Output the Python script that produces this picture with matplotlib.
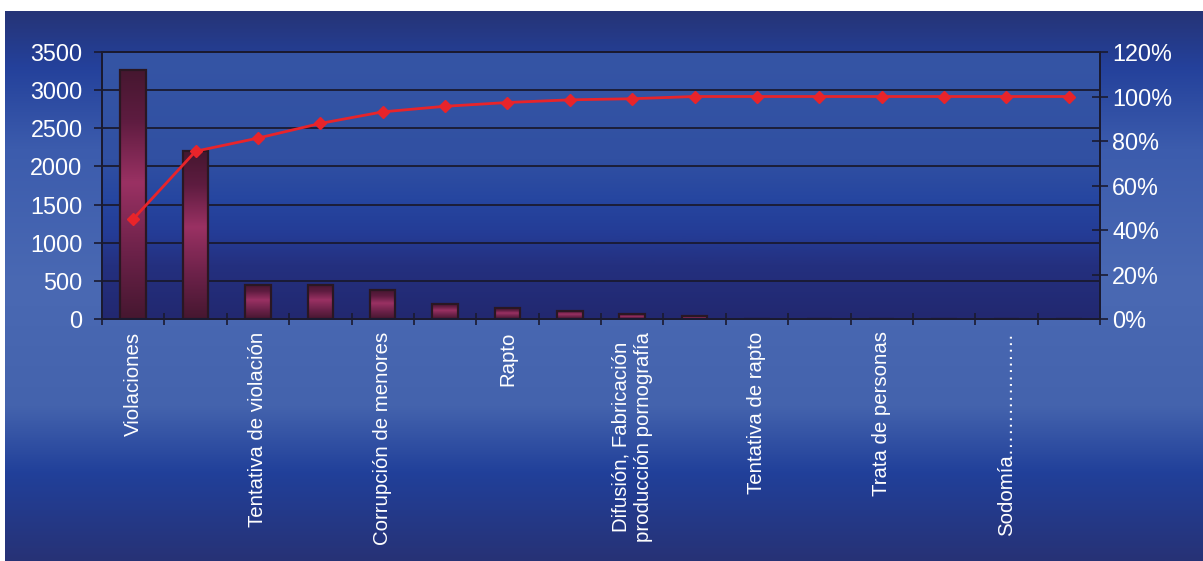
import numpy as np
import matplotlib
matplotlib.use("Agg")
import matplotlib.pyplot as plt
from matplotlib.colors import LinearSegmentedColormap
from matplotlib.ticker import FuncFormatter

categories = ["Violaciones", "", "Tentativa de violación", "", "Corrupción de menores", "",
              "Rapto", "", "Difusión, Fabricación\nproducción pornografía", "",
              "Tentativa de rapto", "", "Trata de personas", "", "Sodomía………………", ""]
counts = [3260, 2200, 450, 450, 380, 200, 140, 105, 60, 35, 0, 0, 0, 0, 0, 0]
cum_pct = [0.449, 0.754, 0.813, 0.879, 0.931, 0.956, 0.973, 0.985, 0.99, 1.0,
           1.0, 1.0, 1.0, 1.0, 1.0, 1.0]
left_ticks = [0, 500, 1000, 1500, 2000, 2500, 3000, 3500]
right_ticks = [0, 0.2, 0.4, 0.6, 0.8, 1.0, 1.2]

FONT = "Liberation Sans"
plt.rcParams["font.family"] = [FONT, "DejaVu Sans"]

W, H = 1203, 561
fig = plt.figure(figsize=(W / 100, H / 100), dpi=100, facecolor="white")

# page background (white strip at top and left)
bg = fig.add_axes([5 / W, 0, 1 - 5 / W, 550 / H], zorder=-10)
bg.axis("off")
bg_cmap = LinearSegmentedColormap.from_list("bg", [
    (0.0, "#263477"), (0.10, "#24419b"), (0.25, "#3c5cad"), (0.5, "#4a69b3"),
    (0.72, "#4463ad"), (0.84, "#21409a"), (1.0, "#273276")])
bg.imshow(np.linspace(0, 1, 256).reshape(-1, 1), cmap=bg_cmap, aspect="auto",
          extent=[0, 1, 0, 1], origin="upper")
bg.set_xlim(0, 1)
bg.set_ylim(0, 1)

ax = fig.add_axes([102 / W, (H - 319) / H, 998 / W, 267 / H])
ax.patch.set_visible(False)
plot_cmap = LinearSegmentedColormap.from_list("plot", [
    (0.0, "#3555a5"), (0.4, "#3150a2"), (0.55, "#2646a0"), (0.68, "#243c96"),
    (0.8, "#24307f"), (1.0, "#222870")])
ax.imshow(np.linspace(0, 1, 256).reshape(-1, 1), cmap=plot_cmap, aspect="auto",
          extent=[0, 1, 0, 1], origin="upper", transform=ax.transAxes, zorder=0)

x = np.arange(len(categories))
bar_cmap = LinearSegmentedColormap.from_list("bar", [
    (0.0, "#461730"), (0.25, "#6a2148"), (0.55, "#9a3163"), (0.8, "#5e1c40"), (1.0, "#461730")])
bars = ax.bar(x, counts, width=0.41, facecolor="none", edgecolor="#2a1722",
              linewidth=1.6, zorder=3)
grad = np.linspace(0, 1, 128).reshape(-1, 1)
for b, v in zip(bars, counts):
    if v <= 0:
        continue
    x0 = b.get_x()
    im = ax.imshow(grad, cmap=bar_cmap, aspect="auto", origin="lower",
                   extent=[x0, x0 + b.get_width(), 0, v], zorder=2)
    im.set_clip_path(b)

ax.set_xlim(-0.5, len(categories) - 0.5)
ax.set_ylim(0, 3500)
ax.set_yticks(left_ticks)
ax.yaxis.grid(True, color="#1a1a30", linewidth=1.3, zorder=1)
ax.set_axisbelow(True)

ax.set_xticks(np.arange(-0.5, len(categories), 1))
ax.set_xticklabels([])
ax.set_xticks(x, minor=True)
ax.set_xticklabels(categories, minor=True, rotation=90, va="top", ha="center",
                   multialignment="center", fontsize=14.7, color="white")
ax.tick_params(axis="x", which="major", direction="inout", length=8.6, width=1.2,
               color="#1a1a30")
ax.tick_params(axis="x", which="minor", length=0, pad=9)
ax.tick_params(axis="y", direction="out", length=6, width=1.2, color="#1a1a30",
               labelsize=16.8, labelcolor="white", pad=8)

for side in ["left", "right", "bottom", "top"]:
    ax.spines[side].set_color("#1a1a30")
    ax.spines[side].set_linewidth(1.4)

ax2 = ax.twinx()
ax2.plot(x, cum_pct, color="#e8242a", linewidth=2, marker="D", markersize=6.5,
         markeredgecolor="#e8242a", zorder=5)
ax2.set_ylim(0, 1.2)
ax2.set_yticks(right_ticks)
ax2.yaxis.set_major_formatter(FuncFormatter(lambda v, p: f"{v * 100:.0f}%"))
ax2.tick_params(axis="y", direction="inout", length=11.5, width=1.2, color="#1a1a30",
                labelsize=16.8, labelcolor="white", pad=3)
for side in ["left", "right", "bottom", "top"]:
    ax2.spines[side].set_color("#1a1a30")
    ax2.spines[side].set_linewidth(1.4)

fig.savefig("out.png", dpi=100, facecolor="white")
